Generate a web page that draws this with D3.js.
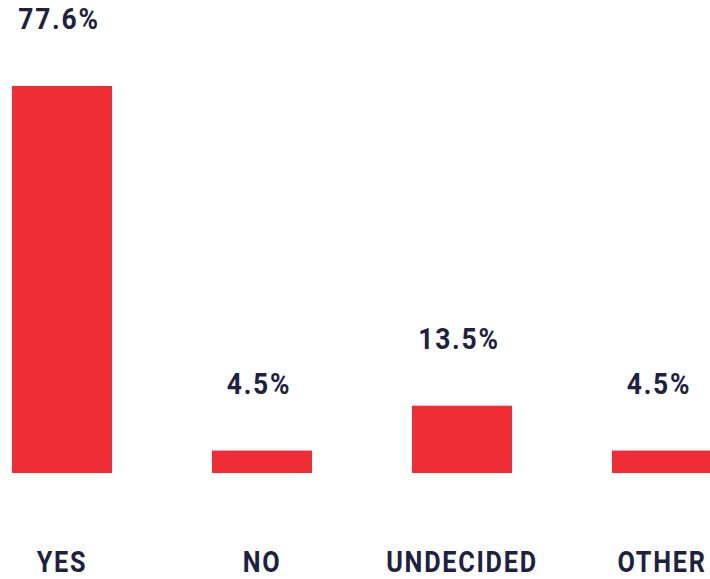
<!DOCTYPE html>
<html><head><meta charset="utf-8">
<script src="https://cdn.jsdelivr.net/npm/d3@7/dist/d3.min.js"></script>
<style>body{margin:0;background:#fff}svg{display:block}</style>
</head><body>
<svg id="c" width="710" height="579"></svg>
<script>
const categories = ["YES", "NO", "UNDECIDED", "OTHER"];
const values = [77.6, 4.5, 13.5, 4.5];
const valueLabels = ["77.6%", "4.5%", "13.5%", "4.5%"];

const svg = d3.select("#c");
const x = d3.scaleBand().domain(categories).range([12, 712]).paddingInner(0.5).paddingOuter(0);
const y = d3.scaleLinear().domain([0, 77.6]).range([473, 86]);
const red = "#ee2d35", navy = "#1e2140";
const font = "Roboto, 'Open Sans', sans-serif";

svg.selectAll("rect.bar").data(values).join("rect")
  .attr("x", (d, i) => x(categories[i]))
  .attr("y", d => y(d))
  .attr("width", x.bandwidth())
  .attr("height", d => y(0) - y(d))
  .attr("fill", red);

svg.selectAll("text.val").data(values).join("text")
  .attr("class", "val")
  .attr("transform", (d, i) => `translate(${x(categories[i]) + x.bandwidth() / 2 - 3},${y(d) - 57}) scale(0.88,1)`)
  .attr("text-anchor", "middle")
  .attr("font-family", font).attr("font-weight", 700)
  .attr("font-size", 30).attr("letter-spacing", 2)
  .attr("fill", navy)
  .text((d, i) => valueLabels[i]);

svg.selectAll("text.cat").data(categories).join("text")
  .attr("class", "cat")
  .attr("transform", d => `translate(${x(d) + x.bandwidth() / 2},572) scale(0.87,1)`)
  .attr("text-anchor", "middle")
  .attr("font-family", font).attr("font-weight", 700)
  .attr("font-size", 29).attr("letter-spacing", 2)
  .attr("fill", navy)
  .text(d => d);
</script>
</body></html>
